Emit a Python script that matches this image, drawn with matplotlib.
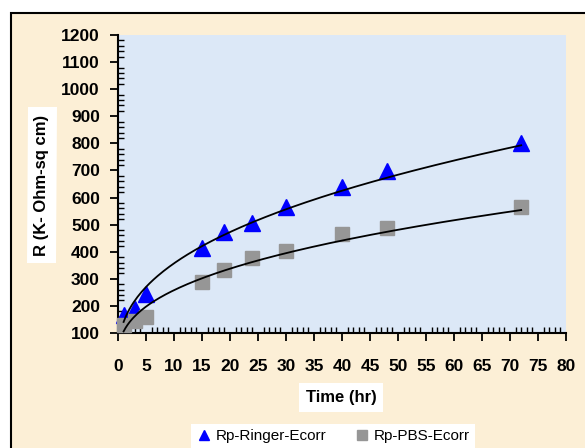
import numpy as np
import matplotlib
matplotlib.use("Agg")
import matplotlib.pyplot as plt
from matplotlib.patches import Rectangle
from matplotlib.ticker import MultipleLocator

plt.rcParams['font.family'] = ['Liberation Sans', 'DejaVu Sans']

time_hr = [1, 3, 5, 15, 19, 24, 30, 40, 48, 72]
rp_ringer = [165, 190, 245, 415, 472, 506, 565, 640, 697, 800]
rp_pbs = [130, 145, 160, 288, 332, 376, 403, 465, 487, 565]

BEIGE = '#FCEFD6'
BLUE_BG = '#DCE8F7'

fig = plt.figure(figsize=(5.85, 4.48), dpi=100, facecolor='white')

# outer chart frame (only top and left edges are visible in the crop)
frame = Rectangle((11 / 585, -0.05), 1.2, 1 - 13 / 448 + 0.05,
                  transform=fig.transFigure, facecolor=BEIGE,
                  edgecolor='black', linewidth=1.5, zorder=-10)
fig.patches.append(frame)

ax = fig.add_axes([118 / 585, 1 - 333 / 448, 448 / 585, 298 / 448])
ax.set_zorder(1)
ax.set_facecolor(BLUE_BG)

x = np.array(time_hr, dtype=float)


def power_trend(y):
    # Excel-style power trendline y = a * x^b
    b, ln_a = np.polyfit(np.log(x), np.log(np.array(y, dtype=float)), 1)
    xs = np.linspace(x.min(), x.max(), 200)
    return xs, np.exp(ln_a) * xs ** b


ax.plot(time_hr, rp_ringer, linestyle='none', marker='^', markersize=11,
        color='#0000FF', label='Rp-Ringer-Ecorr', zorder=3, clip_on=False)
ax.plot(time_hr, rp_pbs, linestyle='none', marker='s', markersize=9.5,
        color='#969696', label='Rp-PBS-Ecorr', zorder=3, clip_on=False)

for series in (rp_ringer, rp_pbs):
    xs, ys = power_trend(series)
    ax.plot(xs, ys, color='black', linewidth=1.3, zorder=4)

ax.set_xlim(0, 80)
ax.set_ylim(100, 1200)
ax.xaxis.set_major_locator(MultipleLocator(5))
ax.xaxis.set_minor_locator(MultipleLocator(1))
ax.yaxis.set_major_locator(MultipleLocator(100))
ax.yaxis.set_minor_locator(MultipleLocator(20))

for side in ('top', 'right'):
    ax.spines[side].set_visible(False)
for side in ('left', 'bottom'):
    ax.spines[side].set_linewidth(1.5)

ax.tick_params(which='major', direction='out', length=6, width=1.3,
               labelsize=12.5, pad=7)
ax.tick_params(which='minor', direction='in', length=4, width=1.0)
ax.tick_params(axis='x', which='major', pad=13)
for lbl in ax.get_xticklabels() + ax.get_yticklabels():
    lbl.set_fontweight('bold')

fig.text(42 / 585, 1 - 185 / 448, 'R (K- Ohm-sq cm)', rotation=90,
         ha='center', va='center', fontsize=12, fontweight='bold',
         bbox=dict(facecolor='white', edgecolor='none', pad=5))
fig.text(341 / 585, 1 - 397 / 448, 'Time (hr)', ha='center', va='center',
         fontsize=12, fontweight='bold',
         bbox=dict(facecolor='white', edgecolor='none', pad=5))

leg = fig.legend(loc='center', bbox_to_anchor=(333 / 585, 1 - 436 / 448),
                 ncol=2, fontsize=11, frameon=True, fancybox=False,
                 handlelength=1.0, handletextpad=0.3, columnspacing=1.8,
                 borderpad=0.3, markerscale=0.7)
leg.get_frame().set_facecolor('white')
leg.get_frame().set_edgecolor('none')
leg.get_frame().set_alpha(1)

fig.savefig('out.png', dpi=100, facecolor=fig.get_facecolor())
